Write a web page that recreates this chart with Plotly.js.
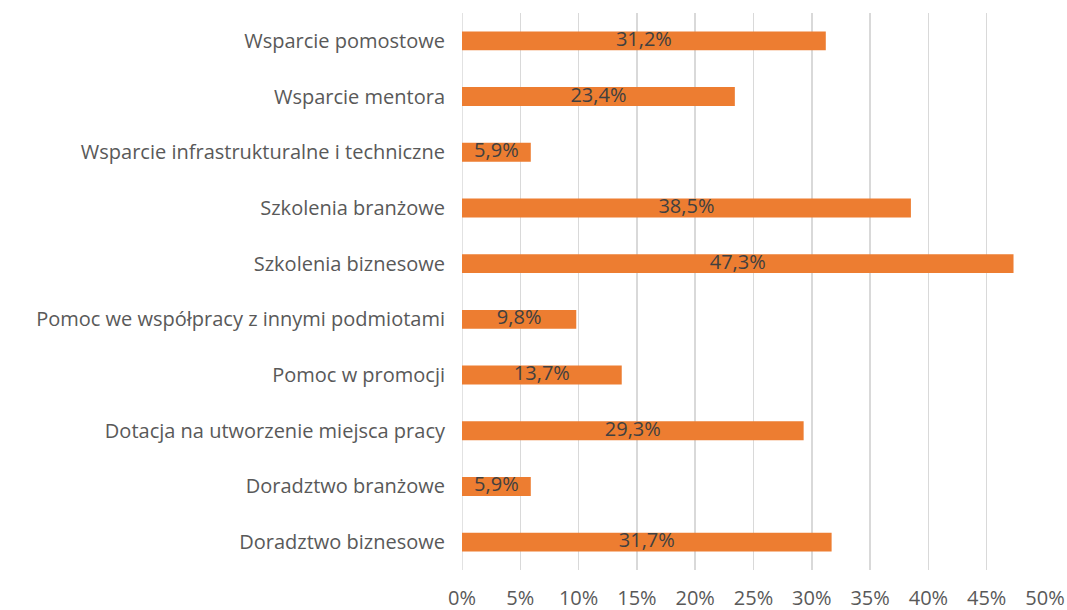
<!DOCTYPE html>
<html>
<head>
<meta charset="utf-8">
<script src="https://cdn.plot.ly/plotly-3.0.1.min.js"></script>
<style>
  html, body { margin: 0; padding: 0; background: #fff; }
  #chart { width: 1067px; height: 610px; }
</style>
</head>
<body>
<div id="chart"></div>
<script>
// Categories from bottom to top (Plotly draws the first category at the bottom)
const categories = [
    'Doradztwo biznesowe',
    'Doradztwo branżowe',
    'Dotacja na utworzenie miejsca pracy',
    'Pomoc w promocji',
    'Pomoc we współpracy z innymi podmiotami',
    'Szkolenia biznesowe',
    'Szkolenia branżowe',
    'Wsparcie infrastrukturalne i techniczne',
    'Wsparcie mentora',
    'Wsparcie pomostowe'
];

// percent of respondents
const shares = [31.7, 5.9, 29.3, 13.7, 9.8, 47.3, 38.5, 5.9, 23.4, 31.2];

const tickVals = [0, 5, 10, 15, 20, 25, 30, 35, 40, 45, 50];

const fmtPct = function(v) {
    return v.toFixed(1).replace('.', ',') + '%';
};

const fontFamily = '"Open Sans", "Noto Sans", sans-serif';

const bars = {
    type: 'bar',
    orientation: 'h',
    x: shares,
    y: categories,
    marker: {color: '#ED7D31'},
    hoverinfo: 'none',
    textposition: 'none'
};

// value labels, centred on each bar
const labels = {
    type: 'scatter',
    mode: 'text',
    x: shares.map((v) => { return v / 2; }),
    y: categories,
    text: shares.map(fmtPct),
    textposition: 'middle center',
    textfont: {family: fontFamily, size: 20, color: '#404040'},
    cliponaxis: false,
    hoverinfo: 'none'
};

const layout = {
    width: 1067,
    height: 610,
    margin: {l: 462, r: 22, t: 13, b: 40},
    paper_bgcolor: '#ffffff',
    plot_bgcolor: '#ffffff',
    showlegend: false,
    bargap: 0.66,
    font: {family: fontFamily, size: 20, color: '#595959'},
    xaxis: {
        range: [0, 50],
        tickvals: tickVals,
        ticktext: tickVals.map((v) => { return v + '%'; }),
        showgrid: true,
        gridcolor: '#d9d9d9',
        gridwidth: 1.5,
        zeroline: false,
        showline: false,
        ticks: '',
        ticklabelstandoff: 14,
        fixedrange: true
    },
    yaxis: {
        type: 'category',
        categoryorder: 'array',
        categoryarray: categories,
        showgrid: false,
        zeroline: false,
        showline: false,
        ticks: '',
        ticklabelstandoff: 16,
        fixedrange: true
    },
    shapes: [{
        type: 'line', xref: 'x', yref: 'paper',
        x0: 0, x1: 0, y0: 0, y1: 1,
        line: {color: '#d9d9d9', width: 1.5},
        layer: 'below'
    }]
};

Plotly.newPlot('chart', [bars, labels], layout, {displayModeBar: false, staticPlot: true});
</script>
</body>
</html>
